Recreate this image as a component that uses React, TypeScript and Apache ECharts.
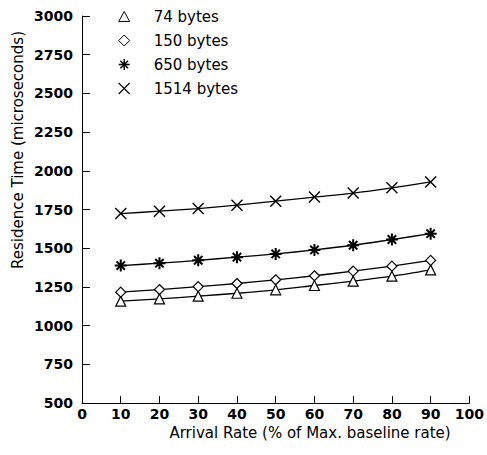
import React, { useEffect, useRef } from "react";
import * as echarts from "echarts";

const arrivalRates = [10, 20, 30, 40, 50, 60, 70, 80, 90];
const bytes74 = [1158, 1173, 1190, 1209, 1231, 1259, 1287, 1319, 1360];
const bytes150 = [1216, 1233, 1252, 1272, 1296, 1322, 1352, 1384, 1421];
const bytes650 = [1388, 1403, 1422, 1442, 1463, 1489, 1519, 1556, 1594];
const bytes1514 = [1724, 1739, 1756, 1778, 1804, 1830, 1856, 1890, 1928];
const seriesNames = ["74 bytes", "150 bytes", "650 bytes", "1514 bytes"];

const TRI_PATH = "path://M5,0L10,9L0,9Z";
const DIA_PATH = "path://M5,0L10,5L5,10L0,5Z";
const X_PATH = "path://M0,0L10,10M10,0L0,10";
const STAR_PATH = "path://M5,0L5,10M0,5L10,5M1.5,1.5L8.5,8.5M8.5,1.5L1.5,8.5";

const FONT = "DejaVu Sans";

export default function App() {
  const ref = useRef<HTMLDivElement>(null);
  useEffect(() => {
    document.body.style.margin = "0";
    const chart = echarts.init(ref.current!, null, { renderer: "svg" });
    const pair = (vals: number[]) => arrivalRates.map((x, i) => [x, vals[i]]);
    const mk = (name: string, vals: number[], symbol: string, size: number, fill: string, bw: number) => ({
      name,
      type: "line",
      data: pair(vals),
      smooth: 0.3,
      symbol,
      symbolSize: size,
      showAllSymbol: true,
      lineStyle: { color: "#000", width: 1.3 },
      itemStyle: { color: fill, borderColor: "#000", borderWidth: bw },
      emphasis: { disabled: true },
    });
    chart.setOption({
      animation: false,
      backgroundColor: "#fff",
      grid: { left: 82, right: 17, top: 16, bottom: 52 },
      legend: {
        orient: "vertical",
        left: 113,
        top: 4,
        itemWidth: 11,
        itemHeight: 11,
        itemGap: 9,
        selectedMode: false,
        data: [
          { name: seriesNames[0], icon: TRI_PATH, itemStyle: { borderWidth: 1 } },
          { name: seriesNames[1], icon: DIA_PATH, itemStyle: { borderWidth: 1 } },
          { name: seriesNames[2], icon: STAR_PATH, itemStyle: { borderWidth: 1.4 } },
          { name: seriesNames[3], icon: X_PATH, itemStyle: { borderWidth: 1.1 } },
        ],
        textStyle: {
          fontFamily: FONT,
          fontSize: 15,
          color: "#000",
          lineHeight: 14,
          padding: [0, 0, 0, 19],
        },
      },
      xAxis: {
        type: "value",
        min: 0,
        max: 100,
        interval: 10,
        splitLine: { show: false },
        axisLine: { lineStyle: { color: "#000", width: 1 } },
        axisTick: { inside: true, length: 7, lineStyle: { color: "#000" } },
        axisLabel: {
          margin: 4,
          color: "#000",
          fontFamily: FONT,
          fontWeight: "bold",
          fontSize: 14,
        },
      },
      yAxis: {
        type: "value",
        min: 500,
        max: 3000,
        interval: 250,
        splitLine: { show: false },
        axisLine: { show: true, lineStyle: { color: "#000", width: 1 } },
        axisTick: { show: true, inside: true, length: 8, lineStyle: { color: "#000" } },
        axisLabel: {
          margin: 9,
          color: "#000",
          fontFamily: FONT,
          fontWeight: "bold",
          fontSize: 14,
          formatter: (v: number) => String(v),
        },
      },
      graphic: [
        {
          type: "text",
          x: 18,
          y: 150,
          rotation: Math.PI / 2,
          style: {
            text: "Residence Time (microseconds)",
            fontFamily: FONT,
            fontSize: 15,
            fill: "#000",
            textAlign: "center",
            textVerticalAlign: "middle",
          },
        },
        {
          type: "text",
          x: 310,
          y: 433,
          style: {
            text: "Arrival Rate (% of Max. baseline rate)",
            fontFamily: FONT,
            fontSize: 15,
            fill: "#000",
            textAlign: "center",
            textVerticalAlign: "middle",
          },
        },
      ],
      series: [
        mk(seriesNames[0], bytes74, TRI_PATH, 10, "#fff", 1.2),
        mk(seriesNames[1], bytes150, DIA_PATH, 10, "#fff", 1.2),
        mk(seriesNames[2], bytes650, STAR_PATH, 12, "#000", 2),
        mk(seriesNames[3], bytes1514, X_PATH, 11, "#000", 1.4),
      ],
    });
    return () => chart.dispose();
  }, []);
  return <div ref={ref} style={{ width: 487, height: 455 }} />;
}
